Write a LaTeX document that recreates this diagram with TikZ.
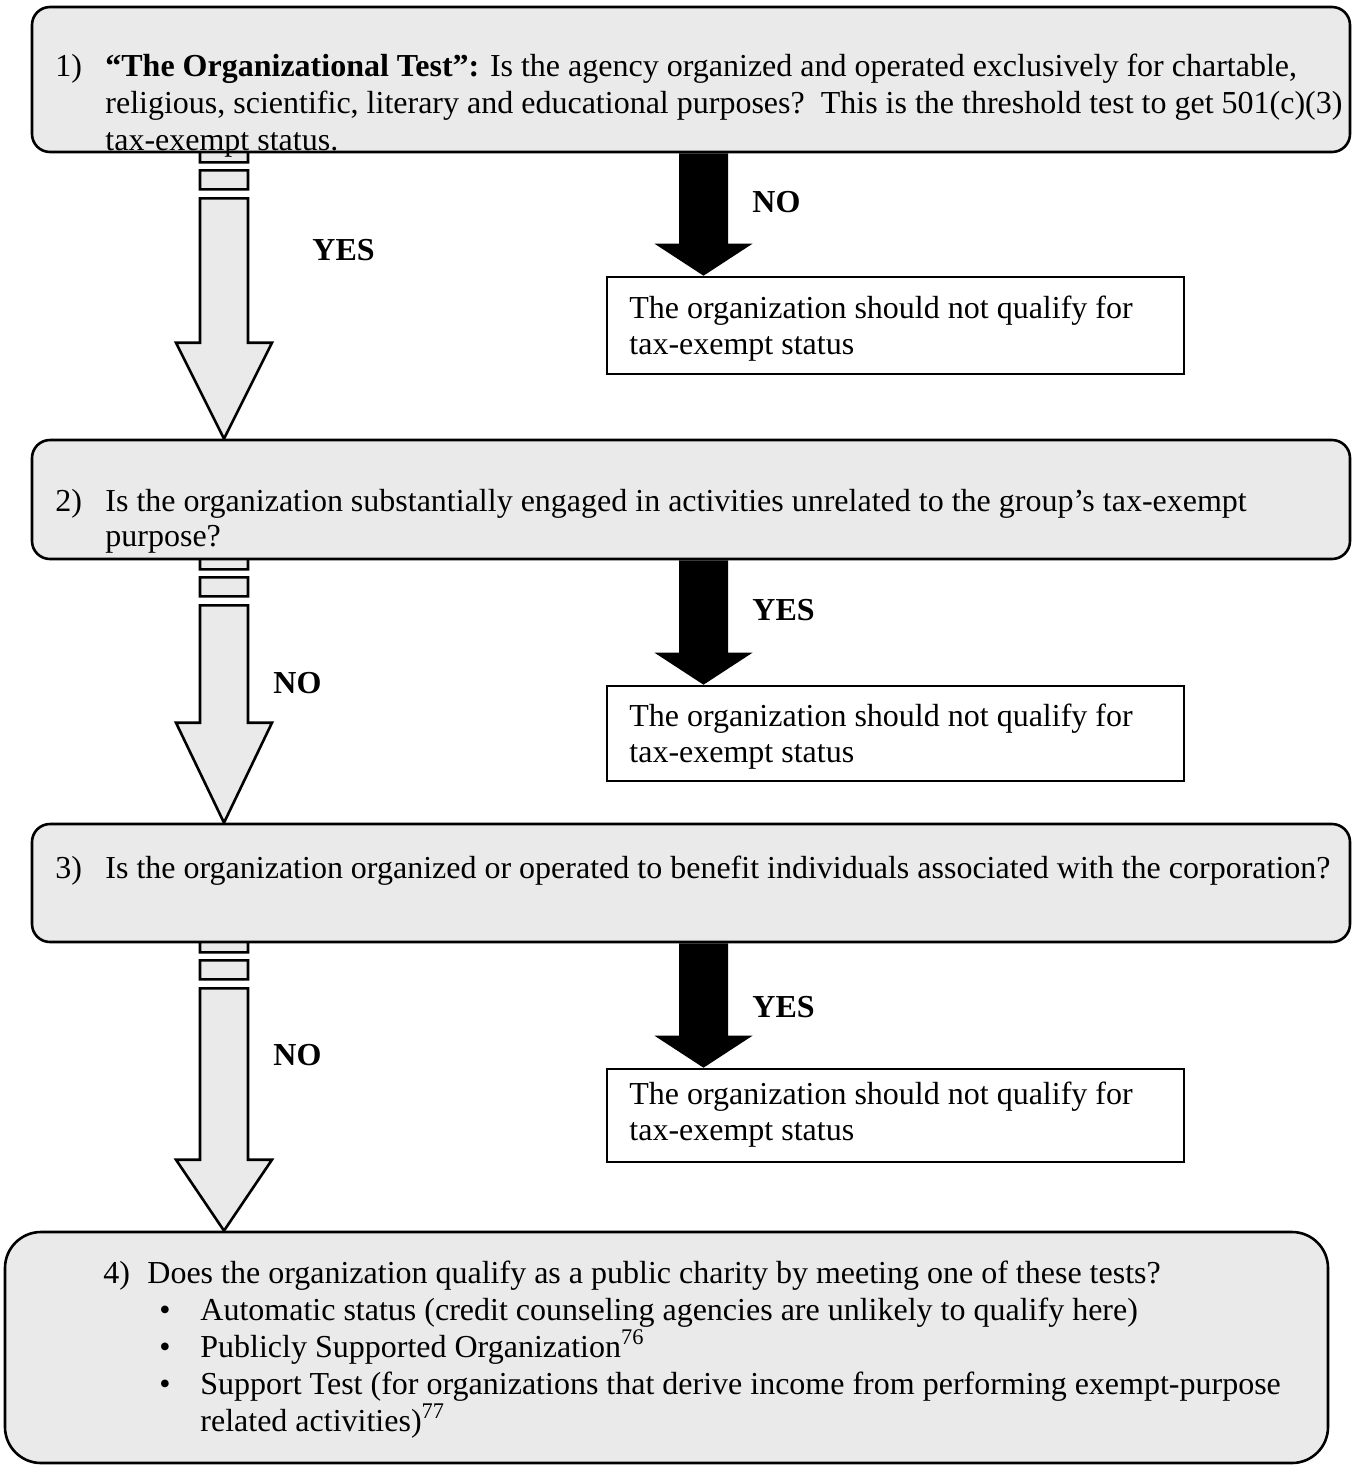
\documentclass[tikz,border=0pt]{standalone}
\usepackage{fontspec}
\setmainfont{Liberation Serif}
\usetikzlibrary{calc,backgrounds}
\definecolor{Ink}{HTML}{000000}
\definecolor{Shade}{HTML}{EAEAEA}
\tikzset{
  question/.style={
    rounded corners=9pt, draw=Ink, line width=1.3pt, fill=Shade, inner sep=0pt
  },
  outcome/.style={draw=Ink, line width=1.3pt, fill=white, inner sep=0pt},
  prose/.style={
    anchor=base west, inner sep=0pt, align=left,
    font=\fontsize{16}{18.5}\selectfont
  },
  answer/.style={anchor=base west, inner sep=0pt, font=\fontsize{16}{18}\selectfont\bfseries},
  stripedflow/.style={draw=Ink, line width=1.3pt, fill=Shade, line join=miter},
  blackflow/.style={fill=Ink}
}
% striped hollow arrow: start, tip, head length
\newcommand\stripedarrow[3]{%
  \filldraw[stripedflow] let \p1=(#1), \p2=(#2) in
    (\x1-12pt,\y1) rectangle (\x1+12pt,\y1-9.5pt)
    (\x1-12pt,\y1-13.5pt) rectangle (\x1+12pt,\y1-23pt)
    (\x1-12pt,\y1-27.5pt) -- (\x1-12pt,\y2+#3) -- (\x1-24pt,\y2+#3) -- (\x2,\y2)
    -- (\x1+24pt,\y2+#3) -- (\x1+12pt,\y2+#3) -- (\x1+12pt,\y1-27.5pt) -- cycle;}
% solid black arrow: start, tip, head length
\newcommand\blackarrow[3]{%
  \fill[blackflow] let \p1=(#1), \p2=(#2) in
    (\x1-12.25pt,\y1) -- (\x1-12.25pt,\y2+#3) -- (\x1-24.5pt,\y2+#3) -- (\x2,\y2)
    -- (\x1+24.5pt,\y2+#3) -- (\x1+12.25pt,\y2+#3) -- (\x1+12.25pt,\y1) -- cycle;}
\begin{document}
\begin{tikzpicture}[x=0.5pt,y=-0.5pt]
  \useasboundingbox (0,0) rectangle (1353,1468);
  \coordinate (lane) at (224,0);
  \coordinate (side) at (703.5,0);
  % questions
  \node[question, minimum width=659pt, minimum height=72.5pt] (q1) at (691,79.5) {};
  \node[question, minimum width=659pt, minimum height=59.5pt] (q2) at (691,499.5) {};
  \node[question, minimum width=659pt, minimum height=59pt] (q3) at (691,883) {};
  \node[question, rounded corners=18pt, minimum width=661.5pt, minimum height=115.5pt] (q4) at (666.5,1347.5) {};
  % outcomes
  \node[outcome, minimum width=288.5pt, minimum height=48.5pt] (r1) at (895.5,325.5) {};
  \node[outcome, minimum width=288.5pt, minimum height=47.5pt] (r2) at (895.5,733.5) {};
  \node[outcome, minimum width=288.5pt, minimum height=46.5pt] (r3) at (895.5,1115.5) {};
  % arrows
  \begin{pgfonlayer}{background}
    \stripedarrow{$(q1.south -| lane)+(0,-10)$}{q2.north -| lane}{48pt}
    \stripedarrow{$(q2.south -| lane)+(0,-10)$}{q3.north -| lane}{50pt}
    \stripedarrow{$(q3.south -| lane)+(0,-10)$}{q4.north -| lane}{35.5pt}
    \blackarrow{q1.south -| side}{r1.north -| side}{16pt}
    \blackarrow{q2.south -| side}{r2.north -| side}{16pt}
    \blackarrow{q3.south -| side}{r3.north -| side}{16pt}
  \end{pgfonlayer}
  % texts (multi-line nodes sit on their last baseline)
  \node[prose] (n1) at (55,76) {1)};
  \node[prose] (t1) at (105,150) {\textbf{“The Organizational Test”:} Is the agency organized and operated exclusively for chartable,\\
    religious, scientific, literary and educational purposes?\ \ This is the threshold test to get 501(c)(3)\\
    tax-exempt status.};
  \node[prose] (n2) at (55,511) {2)};
  \node[prose, font=\fontsize{16}{17.5}\selectfont] (t2) at (105,546) {Is the organization substantially engaged in activities unrelated to the group’s tax-exempt\\purpose?};
  \node[prose] (n3) at (55,878) {3)};
  \node[prose] (t3) at (105,878) {Is the organization organized or operated to benefit individuals associated with the corporation?};
  \node[prose] (n4) at (103,1283) {4)};
  \node[prose] (t4) at (147,1283) {Does the organization qualify as a public charity by meeting one of these tests?};
  \node[prose] (b1) at (159,1320) {\textbullet};
  \node[prose] (b2) at (159,1357) {\textbullet};
  \node[prose] (b3) at (159,1394) {\textbullet};
  \node[prose] (u1) at (200,1320) {Automatic status (credit counseling agencies are unlikely to qualify here)};
  \node[prose] (u2) at (200,1357) {Publicly Supported Organization\textsuperscript{76}};
  \node[prose] (u3) at (200,1431) {Support Test (for organizations that derive income from performing exempt-purpose\\related activities)\textsuperscript{77}};
  \node[prose, font=\fontsize{16}{18}\selectfont] (o1) at (629,354) {The organization should not qualify for\\tax-exempt status};
  \node[prose, font=\fontsize{16}{18}\selectfont] (o2) at (629,762) {The organization should not qualify for\\tax-exempt status};
  \node[prose, font=\fontsize{16}{18}\selectfont] (o3) at (629,1140) {The organization should not qualify for\\tax-exempt status};
  % answers
  \node[answer] (a1) at (752,212) {NO};
  \node[answer] (a2) at (312,260) {YES};
  \node[answer] (a3) at (752,620) {YES};
  \node[answer] (a4) at (273,693) {NO};
  \node[answer] (a5) at (752,1017) {YES};
  \node[answer] (a6) at (273,1065) {NO};
\end{tikzpicture}
\end{document}
